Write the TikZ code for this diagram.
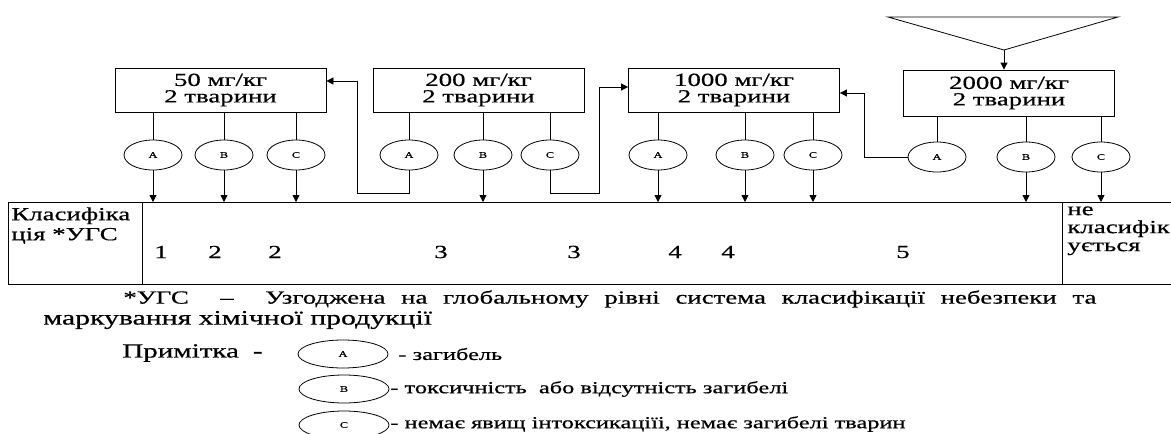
\documentclass[tikz,border=0pt]{standalone}
\usepackage{fontspec}
\setmainfont[FakeStretch=1.45, FakeBold=0.6]{Liberation Serif}
\usetikzlibrary{positioning,arrows.meta,shapes.geometric}

\begin{document}
\begin{tikzpicture}[x=1pt, y=-1pt, line width=0.8pt,
    dose/.style={draw, minimum width=211pt, minimum height=44pt, inner sep=0pt, align=center, font=\fontsize{18.5}{16.5}\selectfont},
    res/.style={draw, ellipse, minimum width=58pt, minimum height=30pt, inner sep=0pt, font=\fontsize{8.5}{8.5}\selectfont},
    keyell/.style={draw, ellipse, minimum width=90pt, minimum height=28pt, inner sep=0pt, font=\fontsize{8.5}{8.5}\selectfont},
    down/.style={-{Triangle[width=7pt,length=7pt]}},
    txt/.style={inner sep=0pt, font=\fontsize{18.5}{20}\selectfont},
    keytxt/.style={inner sep=0pt, anchor=west, font=\fontsize{16.8}{17}\selectfont}]
  \useasboundingbox (0,0) rectangle (1171,434);

  % dose boxes
  \node[dose] (d50) at (220.5,90) {50 мг/кг\\2 тварини};
  \node[dose] (d200) at (478.5,90) {200 мг/кг\\2 тварини};
  \node[dose] (d1000) at (734,90) {1000 мг/кг\\2 тварини};
  \node[dose, minimum height=46pt] (d2000) at (1009,93) {2000 мг/кг\\2 тварини};

  \coordinate (apex) at (1004,50);
  \draw (apex) -- (888,17) -- (1118,17) -- cycle;
  \draw[down] (apex) -- (apex |- d2000.north);

  % outcomes
  \foreach \n/\x/\y/\l in {d50a/153/155/A, d50b/224/155/B, d50c/296/155/C,
      d200a/409/155/A, d200b/483/155/B, d200c/550/155/C,
      d1000a/658/155/A, d1000b/745/155/B, d1000c/813/155/C,
      d2000a/937/157/A, d2000b/1026/157/B, d2000c/1101/157/C}
    \node[res] (\n) at (\x,\y) {\l};
  \foreach \d in {50,200,1000,2000}
    \foreach \s in {a,b,c}
      \draw (d\d\s.north) -- (d\d\s.north |- d\d.south);

  % classification table
  \node[draw, anchor=north west, minimum width=1170pt, minimum height=82pt, inner sep=0pt] (tab) at (8,202) {};
  \draw ([xshift=134pt]tab.north west) -- ([xshift=134pt]tab.south west);
  \draw ([xshift=1054pt]tab.north west) -- ([xshift=1054pt]tab.south west);
  \node[txt, anchor=north west, align=left] (clsname) at (11,207) {Класифіка\\ція *УГС};
  \node[txt, anchor=north west, align=left, font=\fontsize{18.5}{18}\selectfont] (nocls) at (1067,206) {не\\класифік\\ується};
  \foreach \x/\c [count=\i] in {161/1, 215/2, 275/2, 441/3, 574/3, 675/4, 728/4, 903/5}
    \node[txt] (cat\i) at (\x,252) {\c};

  \foreach \n in {d50a, d50b, d50c, d200b, d1000a, d1000b, d1000c, d2000b, d2000c}
    \draw[down] (\n.south) -- (\n.south |- tab.north);
  \draw[down] (d200a.south) -- ++(0,23) -| ([xshift=31pt,yshift=9pt]d50.east) -- ([yshift=9pt]d50.east);
  \draw[down] (d200c.south) -- ++(0,23) -| ([xshift=-29pt,yshift=3pt]d1000.west) -- ([yshift=3pt]d1000.west);
  \draw[down] (d2000a.west) -| ([xshift=24pt,yshift=-3pt]d1000.east) -- ([yshift=-3pt]d1000.east);

  % footnote
  \node[txt, anchor=west, font=\fontsize{18.5}{19}\selectfont] (note1) at (123,299) {\makebox[973pt][s]{*УГС \ – \ Узгоджена на глобальному рівні система класифікації небезпеки та}};
  \node[txt, anchor=west, font=\fontsize{20.5}{19}\selectfont] (note2) at (43,320) {маркування хімічної продукції};

  % legend
  \node[txt, anchor=west, font=\fontsize{20}{20}\selectfont] (prim) at (122,353) {Примітка\hspace{14pt}-};
  \node[keyell] (keya) at (343,354) {A};
  \node[keyell] (keyb) at (344,389) {B};
  \node[keyell] (keyc) at (344,425) {C};
  \node[keytxt] (keyatext) at (398,354) {- загибель};
  \node[keytxt] (keybtext) at (390,389) {- токсичність \ або відсутність загибелі};
  \node[keytxt] (keyctext) at (390,424) {- немає явищ інтоксикаціїі, немає загибелі тварин};
\end{tikzpicture}
\end{document}
